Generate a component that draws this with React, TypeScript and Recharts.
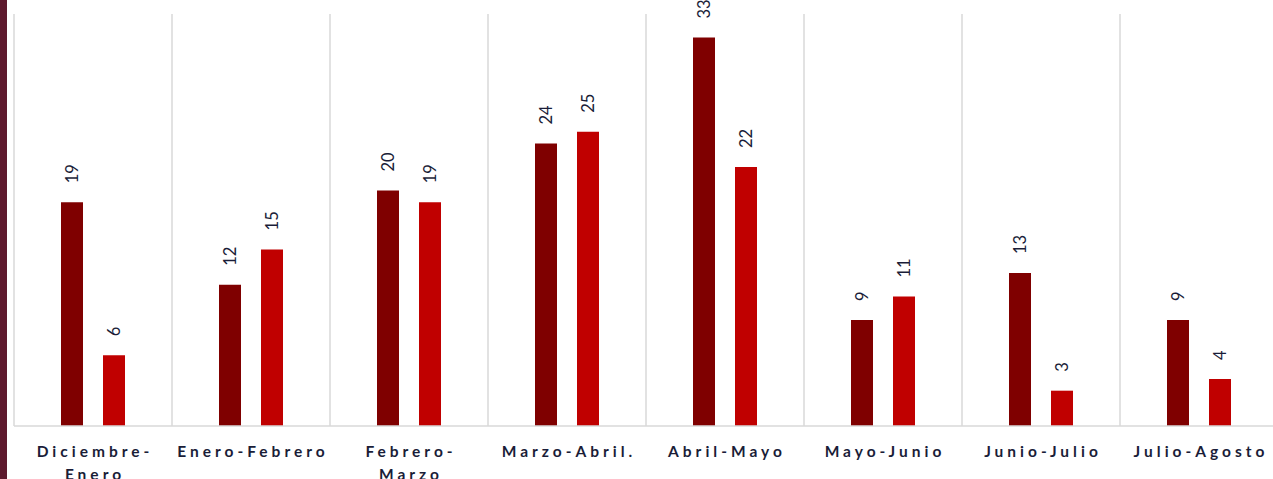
import React from "react";
import { Bar, BarChart, CartesianGrid, LabelList, XAxis, YAxis } from "recharts";

const categories = [
  "Diciembre-\nEnero",
  "Enero-Febrero",
  "Febrero-\nMarzo",
  "Marzo-Abril.",
  "Abril-Mayo",
  "Mayo-Junio",
  "Junio-Julio",
  "Julio-Agosto",
];
const firstValues = [19, 12, 20, 24, 33, 9, 13, 9];
const secondValues = [6, 15, 19, 25, 22, 11, 3, 4];

const data = categories.map((name, i) => ({
  name,
  first: firstValues[i],
  second: secondValues[i],
}));

const DARK = "#7f0000";
const RED = "#c00000";
const TEXT = "#1a1d38";
const GRID = "#d9d9d9";

const ValueLabel = (props: any) => {
  const { x, y, width, value } = props;
  const cx = Number(x) + Number(width) / 2;
  const ly = Number(y) - 19;
  return (
    <text
      x={cx}
      y={ly}
      transform={`rotate(-90, ${cx}, ${ly})`}
      textAnchor="start"
      dominantBaseline="central"
      fontFamily="Lato, 'Open Sans', sans-serif"
      fontSize={16.5}
      fill={TEXT}
    >
      {value}
    </text>
  );
};

const CategoryTick = (props: any) => {
  const { x, y, payload } = props;
  const lines = String(payload.value).split("\n");
  return (
    <text
      x={x}
      y={y}
      textAnchor="middle"
      fontFamily="Lato, 'Open Sans', sans-serif"
      fontWeight="bold"
      fontSize={15.5}
      letterSpacing={4}
      fill={TEXT}
    >
      {lines.map((line, i) => (
        <tspan key={i} x={x + 2} y={y + 23 + i * 23}>
          {line}
        </tspan>
      ))}
    </text>
  );
};

export default function App() {
  return (
    <div
      style={{
        position: "absolute",
        left: 0,
        top: 0,
        width: 1273,
        height: 479,
        overflow: "hidden",
        background: "#ffffff",
      }}
    >
      <div
        style={{
          position: "absolute",
          left: 0,
          top: 0,
          width: 7,
          height: 479,
          background: "#5e1a2d",
        }}
      />
      <BarChart
        width={1278}
        height={479}
        data={data}
        margin={{ top: 14, right: 0, bottom: 0, left: 14 }}
        barSize={22}
        barGap={20}
      >
        <CartesianGrid
          horizontal={false}
          stroke={GRID}
          strokeWidth={1.5}
          verticalCoordinatesGenerator={({ offset }: any) =>
            categories.map((_, i) => offset.left + (i * offset.width) / categories.length)
          }
        />
        <XAxis
          dataKey="name"
          interval={0}
          tickLine={false}
          axisLine={{ stroke: GRID, strokeWidth: 1.5 }}
          tick={<CategoryTick />}
          height={53}
        />
        <YAxis hide domain={[0, 35]} />
        <Bar dataKey="first" fill={DARK} isAnimationActive={false}>
          <LabelList dataKey="first" content={<ValueLabel />} />
        </Bar>
        <Bar dataKey="second" fill={RED} isAnimationActive={false}>
          <LabelList dataKey="second" content={<ValueLabel />} />
        </Bar>
      </BarChart>
    </div>
  );
}
